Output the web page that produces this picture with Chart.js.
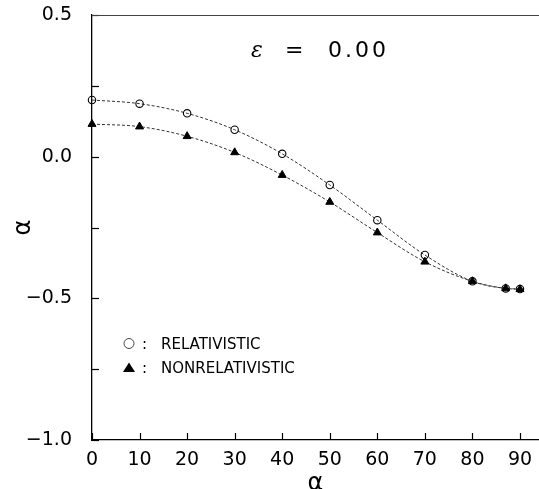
<!DOCTYPE html>
<html>
<head>
<meta charset="utf-8">
<script src="https://cdn.jsdelivr.net/npm/chart.js@4/dist/chart.umd.min.js"></script>
<style>
    html, body { margin: 0; padding: 0; background: #fff; overflow: hidden; }
    #wrap { width: 539px; height: 489px; }
</style>
</head>
<body>
<div id="wrap"><canvas id="chart" width="539" height="489"></canvas></div>
<script>
// Data (angle in degrees)
const angles = [0, 10, 20, 30, 40, 50, 60, 70, 80, 87, 90];
const relativistic = [0.200, 0.187, 0.153, 0.095, 0.010, -0.100, -0.224, -0.347, -0.440, -0.465, -0.467];
const nonRelativistic = [0.115, 0.106, 0.072, 0.015, -0.065, -0.160, -0.268, -0.371, -0.440, -0.465, -0.468];

const xTicks = [0, 10, 20, 30, 40, 50, 60, 70, 80, 90];
const yTicks = [-1.0, -0.75, -0.5, -0.25, 0.0, 0.25, 0.5];
const yLabels = [-1.0, -0.5, 0.0, 0.5];

const FONT = "'DejaVu Sans', 'Liberation Sans', sans-serif";

function toPoints(ys) {
    return angles.map((a, i) => ({ x: a, y: ys[i] }));
}

function fmt(v) {
    const s = Math.abs(v).toFixed(1);
    return v < 0 ? '\u2212' + s : s;
}

// Inward ticks, frame top line, epsilon label and the inset legend
const decorations = {
    id: 'decorations',
    afterDraw(chart) {
        const ctx = chart.ctx;
        const area = chart.chartArea;
        const xs = chart.scales.x;
        const ys = chart.scales.y;

        ctx.save();
        ctx.strokeStyle = '#000';
        ctx.lineWidth = 1.2;

        // y ticks point into the plot
        yTicks.forEach(v => {
            const py = Math.round(ys.getPixelForValue(v)) + 0.5;
            ctx.beginPath();
            ctx.moveTo(area.left, py);
            ctx.lineTo(area.left + 7, py);
            ctx.stroke();
        });
        // x ticks point up
        xTicks.forEach(v => {
            const px = Math.round(xs.getPixelForValue(v)) + 0.5;
            ctx.beginPath();
            ctx.moveTo(px, area.bottom);
            ctx.lineTo(px, area.bottom - 7);
            ctx.stroke();
        });

        // top frame line
        ctx.strokeStyle = '#444';
        ctx.lineWidth = 1;
        ctx.beginPath();
        ctx.moveTo(area.left, area.top + 0.5);
        ctx.lineTo(area.right, area.top + 0.5);
        ctx.stroke();

        // epsilon label
        ctx.fillStyle = '#000';
        ctx.textBaseline = 'alphabetic';
        ctx.textAlign = 'left';
        ctx.font = "italic 22px 'DejaVu Serif', 'Liberation Serif', serif";
        ctx.fillText('\u03b5', 251, 57);
        ctx.font = '22px ' + FONT;
        ctx.fillText('=', 285, 57);
        ctx.letterSpacing = '3px';
        ctx.fillText('0.00', 328, 57);
        ctx.letterSpacing = '0px';

        // legend
        ctx.font = '15px ' + FONT;
        ctx.lineWidth = 1;
        ctx.beginPath();
        ctx.arc(129, 343.5, 5, 0, Math.PI * 2);
        ctx.stroke();
        ctx.fillText(':', 142, 349);
        ctx.fillText('RELATIVISTIC', 161, 349);

        ctx.beginPath();
        ctx.moveTo(129, 362.5);
        ctx.lineTo(135, 372);
        ctx.lineTo(123, 372);
        ctx.closePath();
        ctx.fill();
        ctx.fillText(':', 142, 373);
        ctx.fillText('NONRELATIVISTIC', 161, 373);
        ctx.restore();
    }
};

new Chart(document.getElementById('chart'), {
    type: 'line',
    data: {
        datasets: [
            {
                label: 'RELATIVISTIC',
                data: toPoints(relativistic),
                order: 2,
                borderColor: '#333',
                borderWidth: 1,
                borderDash: [3, 2],
                cubicInterpolationMode: 'monotone',
                pointStyle: 'circle',
                pointRadius: 3.7,
                pointBorderWidth: 1.1,
                pointBorderColor: '#000',
                pointBackgroundColor: 'rgba(0,0,0,0)',
                fill: false
            },
            {
                label: 'NONRELATIVISTIC',
                data: toPoints(nonRelativistic),
                order: 1,
                borderColor: '#333',
                borderWidth: 1,
                borderDash: [3, 2],
                cubicInterpolationMode: 'monotone',
                pointStyle: 'triangle',
                pointRadius: 4.6,
                pointBorderWidth: 1,
                pointBorderColor: '#000',
                pointBackgroundColor: '#000',
                fill: false
            }
        ]
    },
    options: {
        responsive: false,
        animation: false,
        clip: false,
        layout: { autoPadding: false, padding: { top: 15, right: 0, left: 0, bottom: 0 } },
        plugins: {
            legend: { display: false },
            tooltip: { enabled: false }
        },
        scales: {
            x: {
                type: 'linear',
                min: 0,
                max: 94,
                afterBuildTicks: s => { s.ticks = xTicks.map(v => ({ value: v })); },
                afterFit: s => { s.height = 49; s.paddingLeft = 0; s.paddingRight = 0; },
                ticks: {
                    color: '#000',
                    padding: 9,
                    maxRotation: 0,
                    font: { family: FONT, size: 19 },
                    callback: v => String(v)
                },
                grid: { display: true, drawOnChartArea: false, drawTicks: false },
                border: { display: true, color: '#000', width: 1.3 },
                title: {
                    display: true,
                    text: '\u03b1',
                    color: '#000',
                    padding: 0,
                    font: { family: FONT, size: 24, lineHeight: 0.4 }
                }
            },
            y: {
                min: -1,
                max: 0.5,
                afterBuildTicks: s => { s.ticks = yLabels.map(v => ({ value: v })); },
                afterFit: s => { s.width = 92; s.paddingTop = 0; s.paddingBottom = 0; },
                ticks: {
                    color: '#000',
                    padding: 20,
                    font: { family: FONT, size: 19 },
                    callback: v => fmt(v)
                },
                grid: { display: true, drawOnChartArea: false, drawTicks: false },
                border: { display: true, color: '#000', width: 1.3 },
                title: {
                    display: true,
                    text: '\u03b1',
                    color: '#000',
                    padding: { top: 9, bottom: 0 },
                    font: { family: FONT, size: 24 }
                }
            }
        }
    },
    plugins: [decorations]
});
</script>
</body>
</html>
